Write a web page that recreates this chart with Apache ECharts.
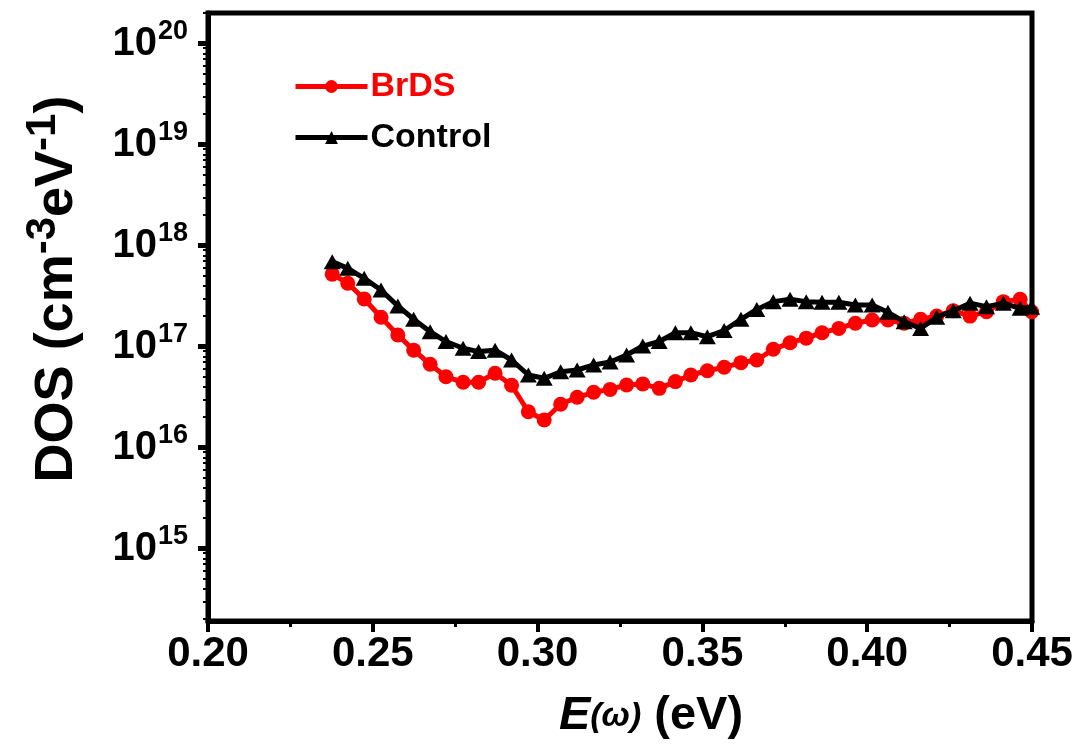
<!DOCTYPE html>
<html>
<head>
<meta charset="utf-8">
<script src="https://cdn.jsdelivr.net/npm/echarts@6/dist/echarts.min.js"></script>
<style>
html,body{margin:0;padding:0;background:#fff;}
#chart{width:1082px;height:754px;}
</style>
</head>
<body>
<div id="chart"></div>
<script>
// Energy positions (eV)
const energy = [0.2377,0.2424,0.2474,0.2525,0.2576,0.2624,0.2674,0.2722,0.2774,0.2821,0.2871,0.2921,0.2972,0.3020,0.3070,0.3120,0.3170,0.3220,0.3270,0.3319,0.3369,0.3418,0.3465,0.3515,0.3566,0.3617,0.3665,0.3715,0.3766,0.3815,0.3863,0.3914,0.3964,0.4015,0.4063,0.4112,0.4162,0.4211,0.4261,0.4312,0.4362,0.4413,0.4464,0.4499];
// DOS (cm^-3 eV^-1)
const brds = [5.2e17,4.23e17,2.95e17,1.95e17,1.30e17,9.2e16,6.67e16,5.02e16,4.42e16,4.42e16,5.43e16,4.13e16,2.26e16,1.87e16,2.68e16,3.14e16,3.52e16,3.76e16,4.16e16,4.26e16,3.85e16,4.49e16,5.22e16,5.75e16,6.22e16,6.92e16,7.35e16,9.38e16,1.09e17,1.21e17,1.37e17,1.51e17,1.70e17,1.83e17,1.83e17,1.70e17,1.86e17,2.00e17,2.26e17,2.00e17,2.21e17,2.78e17,2.93e17,2.21e17];
const control = [6.92e17,5.94e17,4.73e17,3.62e17,2.52e17,1.86e17,1.40e17,1.12e17,9.6e16,8.9e16,9.2e16,7.35e16,5.22e16,4.84e16,5.62e16,5.85e16,6.56e16,7.02e16,8.24e16,1.01e17,1.12e17,1.37e17,1.37e17,1.25e17,1.44e17,1.86e17,2.33e17,2.78e17,2.93e17,2.78e17,2.74e17,2.74e17,2.58e17,2.58e17,2.18e17,1.76e17,1.51e17,1.95e17,2.26e17,2.68e17,2.48e17,2.68e17,2.39e17,2.45e17];
const seriesNames = ['BrDS','Control'];
const xTicks = [0.20,0.25,0.30,0.35,0.40,0.45];
const yTicks = [1e15,1e16,1e17,1e18,1e19,1e20];
const yMinorMantissas = [2,3,4,5,6,7,8,9];

const FONT = '"Liberation Sans", Arial, Helvetica, sans-serif';
const chart = echarts.init(document.getElementById('chart'));

function pairs(xs, ys){ return xs.map((x,i)=>[x, ys[i]]); }
const yMin = Math.pow(10,14.282), yMax = Math.pow(10,20.302);
const yMinorTicks = [];
[1e14].concat(yTicks).forEach(d=>yMinorMantissas.forEach(m=>{ const v=m*d; if(v>yMin && v<yMax) yMinorTicks.push(v); }));

chart.setOption({
  animation:false,
  backgroundColor:'#fff',
  grid:{left:208, top:13, right:50, bottom:133, show:true, borderColor:'#000', borderWidth:5},
  legend:{
    left:288, top:62, orient:'vertical', itemWidth:72, itemHeight:16, itemGap:12,
    lineStyle:{width:5},
    textStyle:{fontFamily:FONT, fontWeight:'bold', fontSize:34, lineHeight:39, padding:[0,0,0,-2]},
    data:[{name:seriesNames[0], textStyle:{color:'#ff0000'}},{name:seriesNames[1], textStyle:{color:'#000'}}]
  },
  xAxis:{
    type:'value', min:0.20, max:0.45, interval:0.05,
    axisLine:{lineStyle:{color:'#000', width:5}},
    axisTick:{length:11, lineStyle:{width:4, color:'#000'}},
    minorTick:{show:true, splitNumber:2, length:6, lineStyle:{width:3, color:'#000'}},
    splitLine:{show:false},
    axisLabel:{margin:12, fontFamily:FONT, fontWeight:'bold', fontSize:42, color:'#000',
      formatter:v=>{ const t = xTicks.find(k=>Math.abs(k-v)<1e-9); return t===undefined ? '' : t.toFixed(2); }},
    name:'{e|E}{w|(ω)}{n| (eV)}', nameLocation:'middle', nameGap:72,
    nameTextStyle:{padding:[0,0,0,62], rich:{
      e:{fontFamily:FONT, fontWeight:'bold', fontStyle:'italic', fontSize:47, color:'#000'},
      w:{fontFamily:FONT, fontWeight:'bold', fontStyle:'italic', fontSize:34, color:'#000'},
      n:{fontFamily:FONT, fontWeight:'bold', fontSize:47, color:'#000'}
    }}
  },
  yAxis:[{
    type:'log', logBase:10, min:yMin, max:yMax, position:'left',
    axisLine:{show:true, lineStyle:{color:'#000', width:5}},
    axisTick:{show:true, length:10, customValues:yTicks, lineStyle:{width:5, color:'#000'}},
    minorTick:{show:false},
    splitLine:{show:false},
    axisLabel:{margin:20, color:'#000', customValues:yTicks,
      formatter:v=>'{b|10}{s|' + Math.round(Math.log10(v)) + '}',
      rich:{
        b:{fontFamily:FONT, fontWeight:'bold', fontSize:40, lineHeight:50, verticalAlign:'middle', color:'#000'},
        s:{fontFamily:FONT, fontWeight:'bold', fontSize:27, lineHeight:27, verticalAlign:'top', color:'#000', padding:[0,0,0,1]}
      }
    },
    name:'{m|DOS (cm}{s|-3}{m|eV}{s|-1}{m|)}', nameLocation:'middle', nameGap:116, nameRotate:90,
    nameTextStyle:{padding:[0,0,0,56], rich:{
      m:{fontFamily:FONT, fontWeight:'bold', fontSize:54, lineHeight:70, verticalAlign:'middle', color:'#000'},
      s:{fontFamily:FONT, fontWeight:'bold', fontSize:42, lineHeight:42, verticalAlign:'top', color:'#000'}
    }}
  },{
    type:'log', logBase:10, min:yMin, max:yMax, position:'left',
    axisLine:{show:false},
    axisTick:{show:true, length:5, customValues:yMinorTicks, lineStyle:{width:2, color:'#000'}},
    axisLabel:{show:false},
    minorTick:{show:false},
    splitLine:{show:false}
  }],
  series:[
    {name:seriesNames[0], type:'line', data:pairs(energy, brds), symbol:'circle', symbolSize:15,
     itemStyle:{color:'#ff0000'}, lineStyle:{color:'#ff0000', width:5}, clip:true, z:2},
    {name:seriesNames[1], type:'line', data:pairs(energy, control), symbol:'triangle', symbolSize:[17,15],
     itemStyle:{color:'#000'}, lineStyle:{color:'#000', width:5}, clip:true, z:3}
  ]
});
</script>
</body>
</html>
